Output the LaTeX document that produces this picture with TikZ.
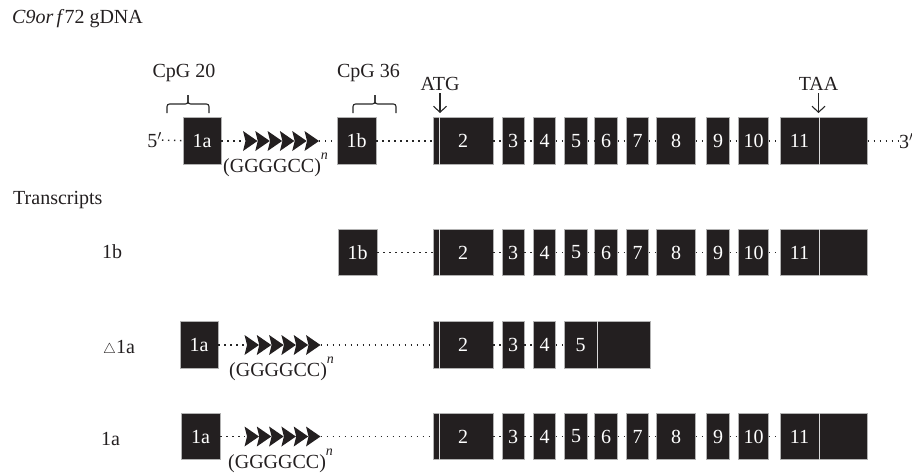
\documentclass[tikz,border=0pt]{standalone}
\usepackage{fontspec}
\setmainfont{Liberation Serif}
\usepackage{tikz}
\usetikzlibrary{arrows.meta, positioning}
\definecolor{exonfill}{RGB}{35,31,32}
\newcommand{\figfont}{\fontsize{20}{24}\selectfont}
\newcommand{\supn}{\raisebox{0.65em}{\fontsize{14}{14}\selectfont\itshape n}}
\newcommand{\smalltri}{{\fontsize{15}{15}\selectfont$\triangle$}}
\newcommand{\gcarrows}[1]{%
  \foreach \k in {0,...,5}
    \fill[exonfill] ([xshift=\k*12.3pt]#1.west) ++(0,-10) -- ++(14.5,10) -- ++(-14.5,10) -- ++(2.5,-10) -- cycle;}
\newcommand{\fullexons}[2]{%
  \node[exon, minimum width=60pt] (#1-2) at (463,#2) {2};
  \foreach \n/\x/\w in {3/513/22, 4/544.5/22, 5/576/22.5, 6/606/22.5, 7/637.5/22, 8/676/39.5, 9/718/22.5, 10/753.5/30}
    \node[exon, minimum width=\w*1pt] (#1-\n) at (\x,#2) {\n};
  \node[exon, minimum width=39pt] (#1-11) at (799.5,#2) {11};
  \node[exon, minimum width=47.5pt, right=0pt of #1-11] (#1-utr) {};
  \path[intron]
    (#1-2) edge (#1-3)
    (#1-3) edge (#1-4)
    (#1-4) edge (#1-5)
    (#1-5) edge (#1-6)
    (#1-6) edge (#1-7)
    (#1-7) edge (#1-8)
    (#1-8) edge (#1-9)
    (#1-9) edge (#1-10)
    (#1-10) edge (#1-11);
  \draw[cut] ([xshift=7pt]#1-2.north west) -- ([xshift=7pt]#1-2.south west);
  \draw[cut] (#1-11.north east) -- (#1-11.south east);}

\begin{document}
\begin{tikzpicture}[x=1pt, y=-1pt, font=\figfont,
  exon/.style={rectangle, fill=exonfill, draw=black!30, line width=0.8pt, text=white, minimum height=46.5pt, inner sep=0pt},
  intron/.style={draw=black!85, line width=1.4pt, dash pattern=on 1.3pt off 4.7pt},
  cut/.style={draw=black!15, line width=1.4pt},
  bracket/.style={draw=black!85, line width=1.1pt, rounded corners=2.5pt},
  codon/.style={draw=black!85, line width=1.1pt, -{Straight Barb[length=6pt, width=13pt]}, shorten <=2.5pt},
  gcrep/.style={rectangle, minimum width=76pt, minimum height=20pt, inner sep=0pt, outer sep=0pt},
  lbl/.style={inner sep=0pt, text=exonfill}]
  \useasboundingbox (0,0) rectangle (912,472);

  % genomic DNA
  \node[lbl, anchor=base west] (title) at (12,23.5) {\textit{C9or\,f}72 gDNA};
  \node[lbl, anchor=base] (cpg20) at (184,77.5) {CpG 20};
  \node[lbl, anchor=base] (cpg36) at (368.5,77.5) {CpG 36};
  \node[lbl, anchor=base] (atg) at (440,90.5) {ATG};
  \node[lbl, anchor=base] (taa) at (818.5,90.5) {TAA};
  \node[lbl, anchor=east] (g-end5) at (162,140) {5$'$};
  \node[exon, minimum width=38pt] (g-1a) at (202,141) {1a};
  \node[gcrep] (g-rep) at (281,141) {};
  \node[lbl, anchor=base west] (g-replabel) at (223,172) {(GGGGCC)\supn};
  \node[exon, minimum width=39pt] (g-1b) at (356.5,141) {1b};
  \fullexons{g}{141}
  \node[lbl, anchor=west] (g-end3) at (899,141) {3$'$};
  \gcarrows{g-rep}
  \path[intron]
    (g-end5) edge (g-1a)
    (g-1a) edge (g-rep)
    (g-rep) edge (g-1b)
    (g-1b) edge (g-2)
    (g-utr) edge (g-end3);
  \coordinate (atg-tip) at (440,113);
  \coordinate (taa-tip) at (818.5,113);
  \draw[codon] (atg) -- (atg-tip);
  \draw[codon] (taa) -- (taa-tip);
  \draw[bracket] (167,113) |- (188,104) -- (188,95);
  \draw[bracket] (188,95) -- (188,104) -| (209,113);
  \draw[bracket] (353,113) |- (375,104) -- (375,95);
  \draw[bracket] (375,95) -- (375,104) -| (396,113);

  % transcripts
  \node[lbl, anchor=base west] (tr) at (13,204) {Transcripts};

  \node[lbl, anchor=base west] (b-name) at (102,258) {1b};
  \node[exon, minimum width=39pt] (b-1b) at (357.5,252.5) {1b};
  \fullexons{b}{252.5}
  \path[intron] (b-1b) edge (b-2);

  \node[lbl, anchor=base west] (d-name) at (103,353) {\smalltri 1a};
  \node[exon, minimum width=38pt] (d-1a) at (199,345) {1a};
  \node[gcrep] (d-rep) at (282.5,345) {};
  \node[lbl, anchor=base west] (d-replabel) at (229,376) {(GGGGCC)\supn};
  \node[exon, minimum width=60pt] (d-2) at (463,345) {2};
  \node[exon, minimum width=22pt] (d-3) at (513,345) {3};
  \node[exon, minimum width=22pt] (d-4) at (544.5,345) {4};
  \node[exon, minimum width=33pt] (d-5) at (580.5,345) {5};
  \node[exon, minimum width=53pt, right=0pt of d-5] (d-utr) {};
  \gcarrows{d-rep}
  \path[intron]
    (d-1a) edge (d-rep)
    (d-rep) edge (d-2)
    (d-2) edge (d-3)
    (d-3) edge (d-4)
    (d-4) edge (d-5);
  \draw[cut] ([xshift=7pt]d-2.north west) -- ([xshift=7pt]d-2.south west);
  \draw[cut] (d-5.north east) -- (d-5.south east);

  \node[lbl, anchor=base west] (a-name) at (101,445) {1a};
  \node[exon, minimum width=39pt] (a-1a) at (200.5,436.5) {1a};
  \node[gcrep] (a-rep) at (282.5,436.5) {};
  \node[lbl, anchor=base west] (a-replabel) at (228,468) {(GGGGCC)\supn};
  \fullexons{a}{436.5}
  \gcarrows{a-rep}
  \path[intron]
    (a-1a) edge (a-rep)
    (a-rep) edge (a-2);
\end{tikzpicture}
\end{document}
